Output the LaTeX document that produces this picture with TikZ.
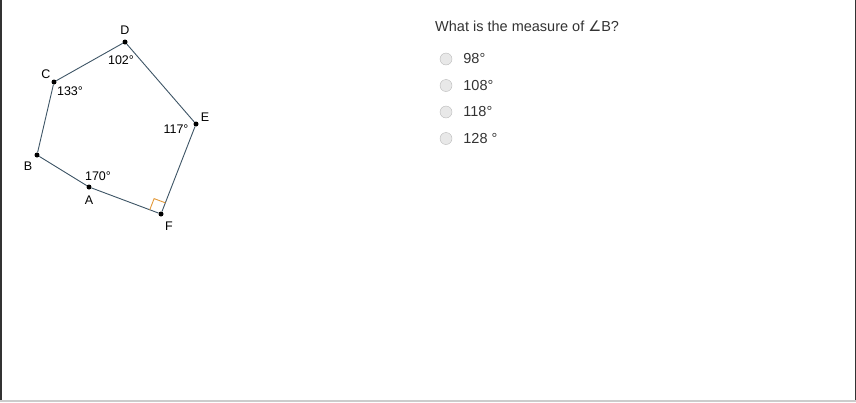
\documentclass[tikz,border=0pt]{standalone}
\usepackage{fontspec}
\setmainfont{Liberation Sans}
\newfontfamily\simboli{DejaVu Sans}
\usetikzlibrary{positioning,calc}

\definecolor{lato}{HTML}{3E5566}
\definecolor{retto}{HTML}{E39A3B}
\definecolor{testo}{HTML}{333333}

\begin{document}
\begin{tikzpicture}[x=1pt,y=-1pt,
    vertice/.style={circle,fill=black,inner sep=0pt,minimum size=5pt},
    etichetta/.style={font=\fontsize{12.5}{14}\selectfont,inner sep=0pt},
    radio/.style={circle,draw=gray!55,fill=gray!18,minimum size=12pt,inner sep=0pt},
    risposta/.style={font=\fontsize{14.5}{16}\selectfont,text=testo,inner sep=1pt}]
  \useasboundingbox (0,0) rectangle (856,402);

  % Cornice
  \draw[testo,line width=1.5pt] (0.75,0) -- (0.75,402);
  \draw[testo,line width=1.5pt] (855.25,0) -- (855.25,402);
  \draw[gray!40,line width=2pt] (0,401) -- (856,401);

  % Vertici
  \node[vertice] (A) at (89,187) {};
  \node[vertice] (B) at (37,155) {};
  \node[vertice] (C) at (54,82) {};
  \node[vertice] (D) at (125,42) {};
  \node[vertice] (E) at (196,124) {};
  \node[vertice] (F) at (161,214) {};

  % Lati
  \draw[lato,line width=0.9pt] (A) -- (B) -- (C) -- (D) -- (E) -- (F) -- (A);

  % Angolo retto
  \coordinate (q1) at ($(F.center)!12pt!(A.center)$);
  \coordinate (q2) at ($(F.center)!12pt!(E.center)$);
  \coordinate (q3) at ($(q1)+(q2)-(F.center)$);
  \draw[retto,line width=0.9pt] (q1) -- (q3) -- (q2);

  % Nomi dei vertici
  \node[etichetta] (nomeD) at ([shift={(0,-12)}]D) {D};
  \node[etichetta] (nomeC) at ([shift={(-8,-8)}]C) {C};
  \node[etichetta] (nomeB) at ([shift={(-9,11)}]B) {B};
  \node[etichetta] (nomeA) at ([shift={(0,13)}]A) {A};
  \node[etichetta] (nomeF) at ([shift={(8,12)}]F) {F};
  \node[etichetta] (nomeE) at ([shift={(9,-7)}]E) {E};

  % Ampiezze
  \node[etichetta] (angD) at ([shift={(-4,18)}]D) {102°};
  \node[etichetta] (angC) at ([shift={(16,9)}]C) {133°};
  \node[etichetta] (angE) at ([shift={(-20,5)}]E) {117°};
  \node[etichetta] (angA) at ([shift={(9,-11)}]A) {170°};

  % Domanda
  \node[risposta,anchor=west] (domanda) at (434,26) {What is the measure of {\simboli ∠}B?};

  % Risposte
  \foreach \val/\y [count=\i] in {98°/59,108°/85.5,118°/112,128 °/138.5} {
    \node[radio] (r\i) at (446,\y) {};
    \node[risposta,right=10pt of r\i] (v\i) {\val};
  }
\end{tikzpicture}
\end{document}
